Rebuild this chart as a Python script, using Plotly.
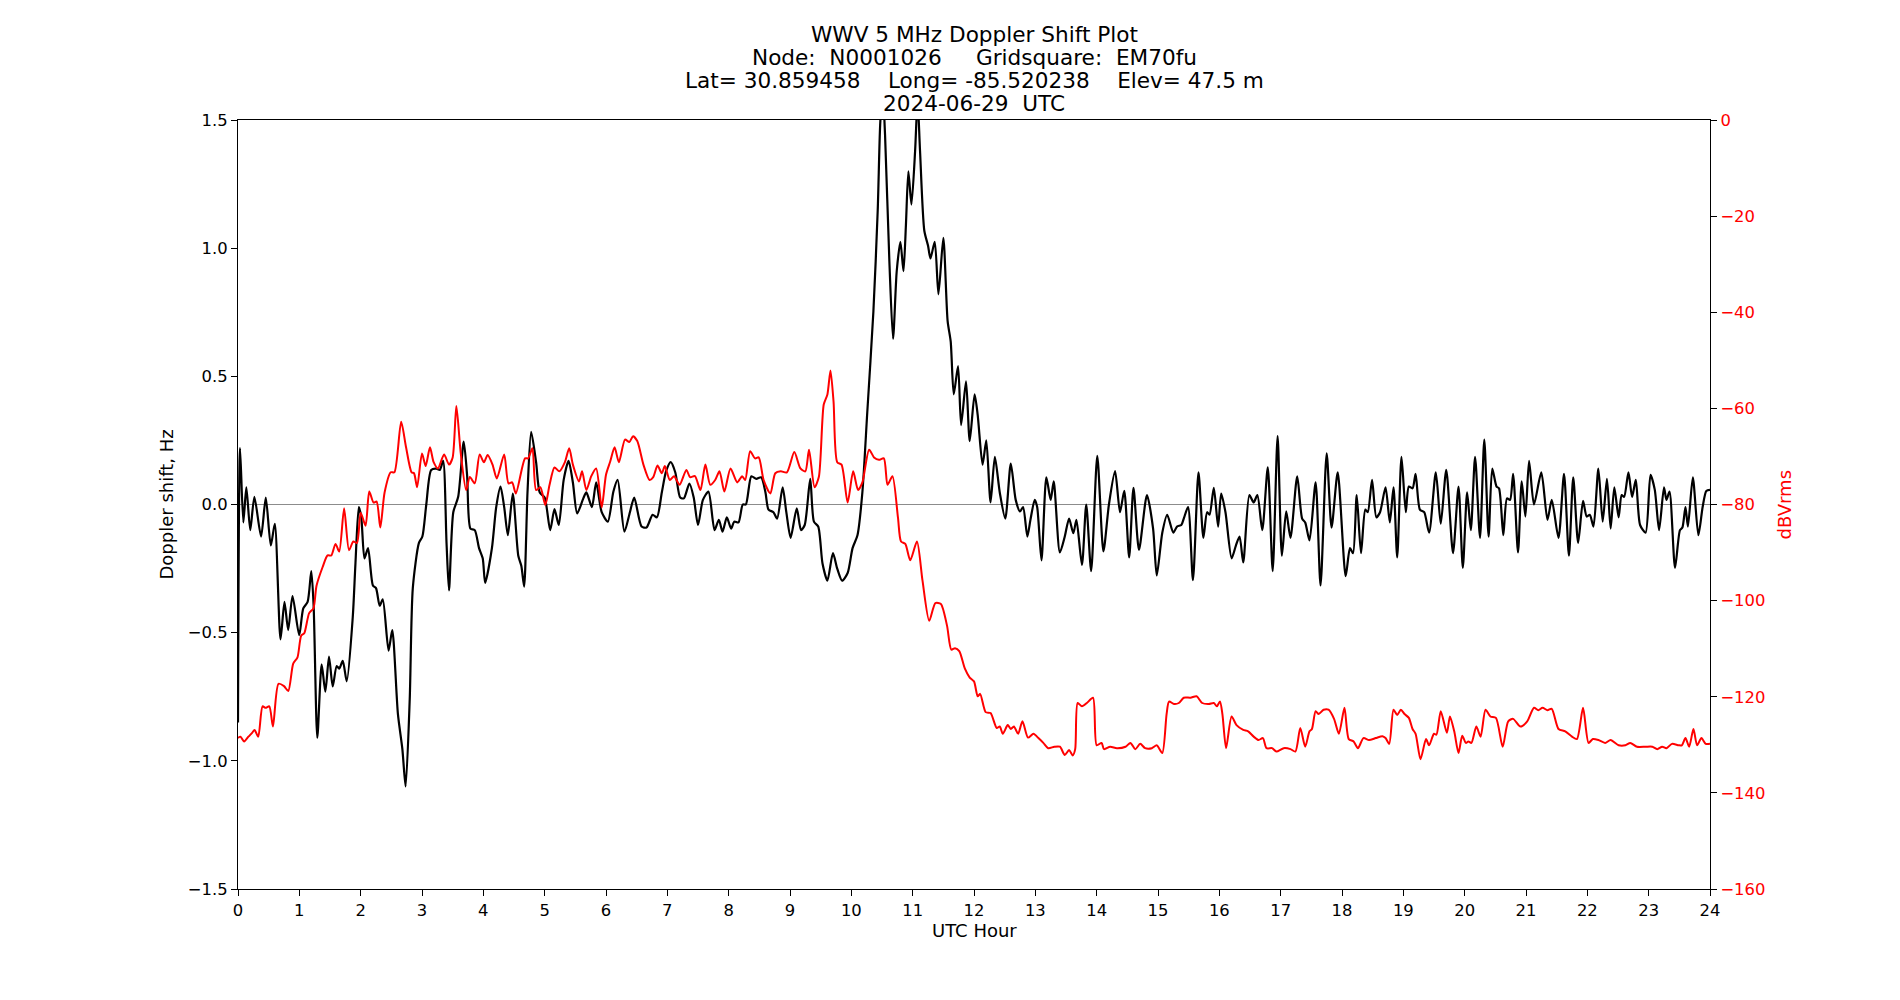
import plotly.graph_objects as go

# ---------------- data ----------------
doppler_hours = [
    0.0, 0.033, 0.087, 0.136, 0.2, 0.267, 0.376, 0.453, 0.535, 0.6,
    0.693, 0.758, 0.818, 0.889, 0.998, 1.064, 1.135, 1.195, 1.233, 1.293,
    1.364, 1.424, 1.484, 1.544, 1.609, 1.65, 1.708, 1.773, 1.871, 1.915,
    1.97, 2.01, 2.062, 2.12, 2.2, 2.25, 2.31, 2.36, 2.455, 2.515,
    2.607, 2.68, 2.733, 2.8, 2.85, 2.95, 3.006, 3.07, 3.15, 3.235,
    3.29, 3.344, 3.4, 3.44, 3.51, 3.59, 3.68, 3.735, 3.79, 3.86,
    3.93, 3.99,
    4.03, 4.14, 4.21, 4.28, 4.34, 4.4, 4.48, 4.57, 4.62, 4.665,
    4.72, 4.78, 4.86, 4.92, 5.0, 5.09, 5.16, 5.23, 5.31, 5.39,
    5.46, 5.53, 5.63, 5.68, 5.77, 5.84, 5.93, 6.03, 6.12, 6.19,
    6.3, 6.39, 6.46, 6.58, 6.66, 6.76, 6.83, 6.91, 6.98, 7.055,
    7.13, 7.21, 7.27, 7.36, 7.43, 7.5, 7.58, 7.67, 7.77, 7.84,
    7.9, 7.97,
    8.04, 8.09, 8.16, 8.23, 8.28, 8.37, 8.45, 8.53, 8.6, 8.65,
    8.73, 8.79, 8.88, 8.94, 9.01, 9.11, 9.18, 9.24, 9.33, 9.39,
    9.46, 9.53, 9.61, 9.7, 9.77, 9.85, 9.94, 10.02, 10.1, 10.18,
    10.26, 10.36, 10.43, 10.47, 10.51, 10.55, 10.62, 10.68, 10.74, 10.8,
    10.85, 10.89, 10.93, 10.98, 11.04, 11.08, 11.12, 11.19, 11.25, 11.29,
    11.36, 11.42, 11.5, 11.57, 11.62, 11.67, 11.74, 11.79, 11.87, 11.93,
    12.01,
    12.06, 12.14, 12.2, 12.27, 12.34, 12.42, 12.51, 12.6, 12.68, 12.75,
    12.8, 12.87, 12.92, 12.99, 13.03, 13.1, 13.18, 13.25, 13.3, 13.4,
    13.48, 13.55, 13.62, 13.67, 13.76, 13.83, 13.91, 14.01, 14.11, 14.2,
    14.3, 14.38, 14.45, 14.53, 14.6, 14.69, 14.82, 14.92, 14.98, 15.07,
    15.15, 15.25, 15.31, 15.38, 15.42, 15.49, 15.57, 15.66, 15.74, 15.8,
    15.84, 15.91, 15.98,
    16.03, 16.1, 16.2, 16.27, 16.33, 16.39, 16.49, 16.56, 16.62, 16.7,
    16.79, 16.87, 16.95, 17.02, 17.09, 17.16, 17.27, 17.35, 17.4, 17.47,
    17.57, 17.65, 17.75, 17.83, 17.93, 18.06, 18.13, 18.18, 18.24, 18.31,
    18.38, 18.42, 18.49, 18.56, 18.62, 18.71, 18.78, 18.84, 18.9, 18.97,
    19.04, 19.09, 19.15, 19.2, 19.27, 19.34, 19.42, 19.53, 19.61, 19.7,
    19.81, 19.9,
    19.97, 20.04, 20.1, 20.17, 20.25, 20.32, 20.39, 20.45, 20.52, 20.56,
    20.63, 20.69, 20.74, 20.79, 20.87, 20.93, 20.99, 21.05, 21.13, 21.25,
    21.35, 21.42, 21.53, 21.62, 21.7, 21.77, 21.85, 21.93, 21.99, 22.04,
    22.1, 22.18, 22.25, 22.32, 22.38, 22.44, 22.51, 22.56, 22.6, 22.67,
    22.73, 22.79, 22.86, 22.95, 23.03, 23.1, 23.17, 23.25, 23.29, 23.34,
    23.43, 23.51, 23.55, 23.6, 23.64, 23.72, 23.81, 23.88, 23.94, 24.0,
]
doppler_hz = [
    -0.85, 0.22, -0.07, 0.067, -0.10, 0.03, -0.125, 0.027, -0.16, -0.075,
    -0.526, -0.38, -0.49, -0.357, -0.51, -0.405, -0.38, -0.26, -0.395, -0.91,
    -0.624, -0.73, -0.593, -0.71, -0.63, -0.64, -0.61, -0.69, -0.44, -0.23,
    -0.01, -0.05, -0.21, -0.17, -0.316, -0.326, -0.395, -0.37, -0.57, -0.49,
    -0.817, -0.954, -1.10, -0.76, -0.326, -0.15, -0.125, 0.0, 0.135, 0.14,
    0.135, 0.17, -0.15, -0.335, -0.03, 0.03, 0.245, 0.115, -0.094, -0.1,
    -0.17, -0.21,
    -0.306, -0.17, -0.01, 0.07, -0.01, -0.12, 0.043, -0.2, -0.24, -0.32,
    0.047, 0.283, 0.165, 0.047, 0.027, -0.1, -0.018, -0.08, 0.096, 0.17,
    0.086, -0.035, 0.024, 0.047, -0.01, 0.086, -0.03, -0.067, 0.05, 0.096,
    -0.106, -0.03, 0.027, -0.086, -0.09, -0.04, -0.05, 0.047, 0.13, 0.165,
    0.125, 0.027, 0.024, 0.082, 0.027, -0.08, 0.018, 0.05, -0.1, -0.06,
    -0.106, -0.05,
    -0.094, -0.067, -0.07, 0.0, 0.0, 0.11, 0.10, 0.106, 0.047, -0.02,
    -0.03, -0.055, 0.067, -0.03, -0.13, -0.015, -0.1, -0.08, 0.10, -0.067,
    -0.086, -0.23, -0.297, -0.19, -0.25, -0.297, -0.267, -0.17, -0.12, 0.047,
    0.36, 0.754, 1.147, 1.48, 1.62, 1.44, 0.95, 0.646, 0.91, 1.025,
    0.91, 1.09, 1.30, 1.17, 1.38, 1.58, 1.38, 1.068, 1.01, 0.96,
    1.025, 0.82, 1.04, 0.715, 0.636, 0.43, 0.54, 0.31, 0.48, 0.247,
    0.43,
    0.35, 0.155, 0.25, 0.008, 0.186, 0.047, -0.055, 0.16, 0.018, -0.027,
    -0.01, -0.125, -0.06, 0.018, -0.01, -0.218, 0.106, 0.018, 0.09, -0.187,
    -0.125, -0.055, -0.112, -0.06, -0.236, 0.0, -0.26, 0.19, -0.183, 0.0,
    0.13, -0.03, 0.053, -0.206, 0.065, -0.177, 0.037, -0.094, -0.277, -0.11,
    -0.04, -0.11, -0.086, -0.08, -0.055, -0.01, -0.295, 0.125, -0.13, -0.03,
    -0.04, 0.065, -0.086,
    0.043, -0.03, -0.21, -0.16, -0.125, -0.226, 0.037, 0.008, 0.037, -0.1,
    0.145, -0.26, 0.267, -0.2, -0.027, -0.13, 0.11, -0.055, -0.07, -0.14,
    0.086, -0.316, 0.2, -0.09, 0.125, -0.28, -0.17, -0.19, 0.037, -0.19,
    -0.02, -0.03, 0.096, -0.05, -0.03, 0.067, -0.07, 0.067, -0.206, 0.186,
    -0.03, 0.07, 0.063, 0.12, -0.02, -0.03, -0.11, 0.125, -0.075, 0.135,
    -0.19, 0.07,
    -0.247, 0.047, -0.1, 0.186, -0.13, 0.253, -0.125, 0.14, 0.07, 0.063,
    -0.12, 0.024, 0.018, 0.12, -0.187, 0.09, -0.047, 0.17, 0.0, 0.125,
    -0.06, 0.018, -0.13, 0.12, -0.2, 0.106, -0.15, 0.014, -0.047, -0.04,
    -0.086, 0.14, -0.067, 0.1, -0.094, 0.067, -0.05, 0.037, 0.03, 0.125,
    0.03, 0.096, -0.08, -0.11, 0.116, 0.057, -0.1, 0.067, 0.018, 0.05,
    -0.247, -0.1, -0.09, -0.01, -0.086, 0.106, -0.12, -0.01, 0.053, 0.057,
]

power_hours = [
    0.0, 0.04, 0.1, 0.17, 0.23, 0.27, 0.33, 0.4, 0.45, 0.51,
    0.57, 0.66, 0.75, 0.82, 0.9, 0.97, 1.03, 1.08, 1.16, 1.23,
    1.28, 1.38, 1.46, 1.52, 1.59, 1.65, 1.73, 1.81, 1.88, 1.94,
    2.0, 2.08, 2.14, 2.21, 2.26, 2.32, 2.39, 2.49, 2.55, 2.66,
    2.74, 2.83, 2.87, 2.92, 3.0, 3.06, 3.13, 3.19, 3.26, 3.36,
    3.44, 3.5, 3.56, 3.63, 3.72, 3.78, 3.86, 3.94, 4.01,
    4.07, 4.15, 4.22, 4.34, 4.41, 4.47, 4.53, 4.68, 4.73, 4.8,
    4.86, 4.93, 5.01, 5.08, 5.16, 5.24, 5.33, 5.4, 5.46, 5.56,
    5.61, 5.68, 5.76, 5.84, 5.93, 6.0, 6.07, 6.14, 6.21, 6.31,
    6.38, 6.44, 6.51, 6.61, 6.71, 6.77, 6.84, 6.91, 6.96, 7.04,
    7.11, 7.2, 7.31, 7.37, 7.45, 7.54, 7.62, 7.7, 7.78, 7.85,
    7.93,
    8.03, 8.14, 8.22, 8.27, 8.35, 8.43, 8.49, 8.57, 8.68, 8.76,
    8.85, 8.95, 9.07, 9.17, 9.25, 9.31, 9.4, 9.47, 9.55, 9.61,
    9.66, 9.71, 9.77, 9.84, 9.94, 10.03, 10.11, 10.18, 10.29, 10.37,
    10.45, 10.53, 10.59, 10.67, 10.76, 10.81, 10.88, 10.96, 11.07, 11.16,
    11.27, 11.37, 11.46, 11.56, 11.63, 11.69, 11.76, 11.85, 11.93, 12.0,
    12.06,
    12.1, 12.19, 12.27, 12.37, 12.42, 12.47, 12.55, 12.6, 12.65, 12.72,
    12.79, 12.88, 12.97, 13.05, 13.13, 13.21, 13.31, 13.4, 13.48, 13.55,
    13.61, 13.65, 13.69, 13.76, 13.84, 13.94, 14.0, 14.08, 14.12, 14.22,
    14.33, 14.47, 14.55, 14.63, 14.71, 14.79, 14.9, 14.98, 15.07, 15.14,
    15.18, 15.26, 15.34, 15.42, 15.53, 15.63, 15.72, 15.83, 15.91, 15.96,
    16.01, 16.05, 16.11, 16.2, 16.28, 16.39, 16.47, 16.56, 16.64, 16.71,
    16.77, 16.86, 16.93, 17.05, 17.16, 17.24, 17.32, 17.4, 17.47, 17.51,
    17.57, 17.62, 17.7, 17.78, 17.87, 17.95, 18.04, 18.11, 18.19, 18.26,
    18.35, 18.44, 18.55, 18.66, 18.71, 18.77, 18.84, 18.9, 18.96, 19.02,
    19.09, 19.15, 19.2, 19.28, 19.37, 19.42, 19.5, 19.54, 19.61, 19.71,
    19.76, 19.83, 19.9,
    19.96, 20.02, 20.06, 20.11, 20.19, 20.26, 20.34, 20.42, 20.51, 20.62,
    20.71, 20.79, 20.91, 21.02, 21.13, 21.2, 21.27, 21.35, 21.42, 21.53,
    21.64, 21.75, 21.83, 21.93, 22.02, 22.09, 22.18, 22.29, 22.38, 22.51,
    22.62, 22.7, 22.81, 22.95, 23.06, 23.14, 23.22, 23.29, 23.38, 23.49,
    23.54, 23.6, 23.66, 23.73, 23.79, 23.86, 23.93, 24.0,
]
power_db = [
    -128.6, -128.3, -129.3, -128.3, -127.5, -126.9, -128.3, -122.0, -122.3, -122.0,
    -126.2, -117.3, -117.8, -118.8, -113.1, -111.8, -107.3, -106.8, -102.6, -101.6,
    -96.9, -93.0, -90.6, -90.6, -88.2, -89.8, -80.8, -89.5, -87.7, -88.0,
    -81.7, -84.4, -77.3, -79.6, -79.4, -84.8, -77.5, -73.3, -73.3, -62.8,
    -68.1, -73.3, -73.5, -76.4, -69.4, -72.0, -68.1, -71.2, -72.5, -69.6,
    -71.7, -70.2, -59.5, -69.1, -77.0, -74.3, -75.6, -69.6, -71.2,
    -69.7, -71.7, -74.6, -69.6, -75.6, -75.4, -77.7, -70.4, -70.4, -68.3,
    -77.0, -76.4, -80.1, -75.9, -72.3, -73.1, -71.2, -68.3, -71.7, -75.2,
    -73.1, -77.0, -74.1, -72.5, -80.6, -73.8, -71.0, -68.1, -71.2, -66.5,
    -67.0, -65.8, -66.8, -71.7, -74.9, -74.3, -71.9, -73.5, -72.0, -74.9,
    -74.1, -75.9, -72.8, -74.3, -74.1, -77.0, -71.7, -75.9, -74.9, -73.1,
    -77.3,
    -72.5, -75.4, -74.1, -74.9, -68.9, -70.4, -70.2, -74.9, -77.7, -73.5,
    -73.1, -73.3, -69.1, -72.5, -73.1, -68.6, -76.4, -74.3, -59.2, -57.1,
    -52.1, -58.6, -71.2, -71.7, -79.6, -73.1, -77.0, -75.4, -68.6, -70.2,
    -70.7, -70.4, -75.9, -74.1, -82.7, -87.7, -88.2, -91.6, -87.7, -95.8,
    -104.2, -100.5, -100.7, -105.2, -110.2, -109.9, -110.5, -114.1, -116.0, -116.8,
    -119.9,
    -119.4, -123.2, -123.4, -126.5, -126.2, -127.7, -125.9, -126.7, -126.2, -127.7,
    -125.1, -128.5, -127.7, -128.6, -129.6, -130.7, -130.4, -130.4, -132.1, -131.1,
    -132.2, -130.9, -121.3, -122.0, -121.3, -120.2, -130.1, -129.6, -130.9, -130.4,
    -130.7, -130.4, -129.6, -130.9, -129.8, -130.7, -130.7, -130.1, -131.7, -123.6,
    -121.0, -121.5, -121.3, -120.2, -120.2, -119.9, -121.3, -121.5, -121.3, -122.0,
    -121.0, -123.6, -130.7, -124.1, -125.9, -126.9, -127.2, -128.3, -129.0, -128.6,
    -130.7, -130.7, -131.4, -130.7, -130.9, -131.4, -126.5, -130.4, -127.2, -126.7,
    -123.0, -123.6, -122.7, -122.7, -124.6, -127.7, -122.3, -128.8, -129.3, -130.7,
    -128.6, -129.0, -128.6, -128.2, -128.6, -129.8, -122.7, -123.8, -122.7, -123.6,
    -124.4, -126.7, -127.7, -133.0, -128.8, -130.1, -127.7, -127.9, -123.0, -127.5,
    -124.1, -127.2, -131.7,
    -128.1, -129.6, -129.3, -129.6, -126.2, -128.3, -122.7, -124.1, -124.4, -130.4,
    -125.1, -124.6, -126.2, -125.1, -122.3, -122.8, -122.3, -122.8, -122.5, -126.7,
    -127.2, -128.3, -128.8, -122.3, -129.6, -128.8, -129.0, -129.6, -129.0, -130.1,
    -130.1, -129.6, -130.4, -130.4, -130.4, -130.9, -130.4, -130.7, -129.8, -130.1,
    -130.1, -128.6, -130.4, -126.7, -130.1, -128.6, -129.8, -129.8,
]

x_tick_values = list(range(0, 25))
y_tick_values = [-1.5, -1.0, -0.5, 0.0, 0.5, 1.0, 1.5]
y2_tick_values = [-160, -140, -120, -100, -80, -60, -40, -20, 0]

title_lines = [
    "WWV 5 MHz Doppler Shift Plot",
    "Node:  N0001026     Gridsquare:  EM70fu",
    "Lat= 30.859458    Long= -85.520238    Elev= 47.5 m",
    "2024-06-29  UTC",
]

assert len(doppler_hours) == len(doppler_hz), (len(doppler_hours), len(doppler_hz))
assert len(power_hours) == len(power_db), (len(power_hours), len(power_db))


def fmt(v, nd):
    s = f"{abs(v):.{nd}f}"
    return ("\u2212" + s) if v < 0 else s


# ---------------- figure ----------------
FONT = "DejaVu Sans"
L, R, T, B = 238, 190, 120, 111
W, H = 1900, 1000
plot_w = W - L - R
plot_h = H - T - B

fig = go.Figure()
fig.add_trace(go.Scatter(
    x=doppler_hours, y=doppler_hz, mode="lines", yaxis="y",
    line=dict(color="black", width=2.2, shape="spline", smoothing=0.7),
    showlegend=False, hoverinfo="x+y",
))
fig.add_trace(go.Scatter(
    x=power_hours, y=power_db, mode="lines", yaxis="y2",
    line=dict(color="red", width=2, shape="spline", smoothing=0.7),
    showlegend=False, hoverinfo="x+y",
))

axis_common = dict(
    ticks="outside", ticklen=6, tickwidth=1, tickcolor="black",
    showline=True, linecolor="black", linewidth=1.2, showgrid=False,
)

fig.update_layout(
    width=W, height=H, autosize=False,
    margin=dict(l=L, r=R, t=T, b=B, pad=0),
    paper_bgcolor="white", plot_bgcolor="white",
    font=dict(family=FONT, size=16.4, color="black"),
    showlegend=False,
    xaxis=dict(
        range=[0, 24], tickmode="array", tickvals=x_tick_values,
        ticktext=[str(v) for v in x_tick_values], mirror=True,
        zeroline=False, **axis_common,
    ),
    yaxis=dict(
        range=[-1.5, 1.5], tickmode="array", tickvals=y_tick_values,
        ticktext=[fmt(v, 1) for v in y_tick_values],
        zeroline=True, zerolinecolor="#8c8c8c", zerolinewidth=1.2,
        **axis_common,
    ),
    yaxis2=dict(
        range=[-160, 0], overlaying="y", side="right", tickmode="array",
        tickvals=y2_tick_values, ticktext=[fmt(v, 0) for v in y2_tick_values],
        tickfont=dict(color="red", family=FONT, size=16.4),
        zeroline=False, **axis_common,
    ),
)

annotations = []
title_pix_y = [35, 57.5, 80.5, 104]
for line, py in zip(title_lines, title_pix_y):
    annotations.append(dict(
        text=line, xref="paper", yref="paper", x=0.5,
        y=(H - B - py) / plot_h, xanchor="center", yanchor="middle",
        showarrow=False, font=dict(family=FONT, size=21.6, color="black"),
    ))
annotations.append(dict(
    text="UTC Hour", xref="paper", yref="paper", x=0.5,
    y=(H - B - 930.5) / plot_h, xanchor="center", yanchor="middle",
    showarrow=False, font=dict(family=FONT, size=18, color="black"),
))
annotations.append(dict(
    text="Doppler shift, Hz", xref="paper", yref="paper",
    x=(166 - L) / plot_w, y=0.5, xanchor="center", yanchor="middle",
    textangle=-90, showarrow=False,
    font=dict(family=FONT, size=18, color="black"),
))
annotations.append(dict(
    text="dBVrms", xref="paper", yref="paper",
    x=(1784 - L) / plot_w, y=0.5, xanchor="center", yanchor="middle",
    textangle=-90, showarrow=False,
    font=dict(family=FONT, size=18, color="red"),
))
fig.update_layout(annotations=annotations)

fig.write_html("out.html")
